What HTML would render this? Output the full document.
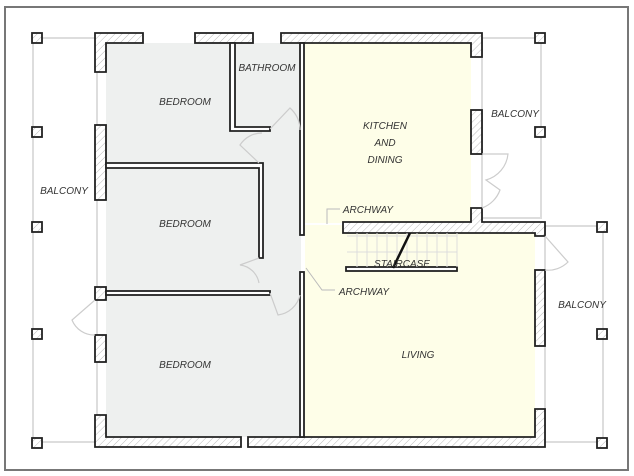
<!DOCTYPE html>
<html><head><meta charset="utf-8"><style>
html,body{margin:0;padding:0;background:#fff;width:634px;height:476px;overflow:hidden}
text{font-family:"Liberation Sans",sans-serif;font-size:10px;fill:#333;font-style:italic;text-anchor:middle}
</style></head><body>
<svg width="634" height="476" viewBox="0 0 634 476" xmlns="http://www.w3.org/2000/svg">
<defs>
<pattern id="h" width="5" height="5" patternUnits="userSpaceOnUse" patternTransform="rotate(45)">
<rect width="5" height="5" fill="#fff"/><line x1="0" y1="0" x2="0" y2="5" stroke="#bbb" stroke-width="1"/></pattern>
</defs>
<rect x="5" y="7" width="623" height="463" fill="#fff" stroke="#777" stroke-width="2"/>
<g fill="none" stroke="#ddd" stroke-width="2">
<rect x="33" y="38" width="64" height="404"/>
<rect x="482" y="38" width="59" height="180"/>
<rect x="545" y="226" width="58" height="216"/>
</g>
<rect x="106" y="43" width="195" height="394" fill="#eef0ef"/>
<rect x="305" y="43" width="166" height="180" fill="#fefee8"/>
<rect x="305" y="233" width="230" height="204" fill="#fefee8"/>
<rect x="300" y="225" width="45" height="8" fill="#fefee8"/>
<g fill="url(#h)" stroke="#222" stroke-width="1.8">
<rect x="32" y="33" width="10" height="10"/><rect x="32" y="127" width="10" height="10"/><rect x="32" y="222" width="10" height="10"/><rect x="32" y="329" width="10" height="10"/><rect x="32" y="438" width="10" height="10"/>
<rect x="535" y="33" width="10" height="10"/><rect x="535" y="127" width="10" height="10"/>
<rect x="597" y="222" width="10" height="10"/><rect x="597" y="329" width="10" height="10"/><rect x="597" y="438" width="10" height="10"/>
</g>
<g fill="url(#h)" stroke="#222" stroke-width="1.8">
<path d="M95 33H143V43H106V72H95Z"/>
<rect x="195" y="33" width="58" height="10"/>
<path d="M281 33H482V57H471V43H281Z"/>
<rect x="471" y="110" width="11" height="44"/>
<path d="M471 208H482V222H545V236H535V233H343V222H471Z"/>
<rect x="95" y="125" width="11" height="75"/>
<rect x="95" y="287" width="11" height="13"/>
<rect x="95" y="335" width="11" height="27"/>
<path d="M95 415H106V437H241V447H95Z"/>
<path d="M248 437H535V409H545V447H248Z"/>
<rect x="535" y="270" width="10" height="76"/>
</g>
<g fill="#fff" stroke="#222" stroke-width="1.8">
<path d="M230 43H235V127H270V131H230Z"/>
<rect x="300" y="43" width="4" height="192"/>
<rect x="300" y="272" width="4" height="165"/>
<path d="M106 163H263V258H259V168H106Z"/>
<rect x="106" y="291" width="164" height="4"/>
<rect x="346" y="267" width="111" height="4"/>
</g>
<g fill="none" stroke="#ccc" stroke-width="1.2">
<path d="M270 129 L290 108 A30 30 0 0 1 300 130"/>
<path d="M259 163 L240 145 A26 26 0 0 1 262 133"/>
<path d="M259 258 L240 265 A22 22 0 0 1 259 283"/>
<path d="M270 293 L278 315 A26 26 0 0 0 300 295"/>
<path d="M95 300 L72 320 A24 24 0 0 0 95 335"/>
<path d="M482 154 L508 154 A30 30 0 0 1 486 180 L500 190 A30 30 0 0 1 482 208"/>
<path d="M545 236 L568 262 A28 28 0 0 1 545 270"/>
</g>
<g stroke="#ddd" stroke-width="1">
<line x1="347" y1="236" x2="457" y2="236"/>
<line x1="347" y1="252" x2="457" y2="252"/>
<line x1="357" y1="233" x2="357" y2="267"/><line x1="367" y1="233" x2="367" y2="267"/><line x1="377" y1="233" x2="377" y2="267"/><line x1="387" y1="233" x2="387" y2="267"/><line x1="397" y1="233" x2="397" y2="267"/><line x1="407" y1="233" x2="407" y2="267"/><line x1="417" y1="233" x2="417" y2="267"/><line x1="427" y1="233" x2="427" y2="267"/><line x1="437" y1="233" x2="437" y2="267"/><line x1="447" y1="233" x2="447" y2="267"/><line x1="457" y1="233" x2="457" y2="267"/>
</g>
<line x1="410" y1="233" x2="393" y2="268" stroke="#111" stroke-width="2.5"/>
<g fill="none" stroke="#bbb" stroke-width="1">
<path d="M340 209 H327 V224"/>
<path d="M335 290 H322 L306 268"/>
</g>
<text x="185" y="105">BEDROOM</text>
<text x="185" y="227">BEDROOM</text>
<text x="185" y="368">BEDROOM</text>
<text x="267" y="71">BATHROOM</text>
<text x="385" y="129">KITCHEN</text>
<text x="385" y="146">AND</text>
<text x="385" y="163">DINING</text>
<text x="64" y="194">BALCONY</text>
<text x="515" y="117">BALCONY</text>
<text x="582" y="308">BALCONY</text>
<text x="368" y="213">ARCHWAY</text>
<text x="364" y="295">ARCHWAY</text>
<text x="402" y="267">STAIRCASE</text>
<text x="418" y="358">LIVING</text>
</svg>
</body></html>
